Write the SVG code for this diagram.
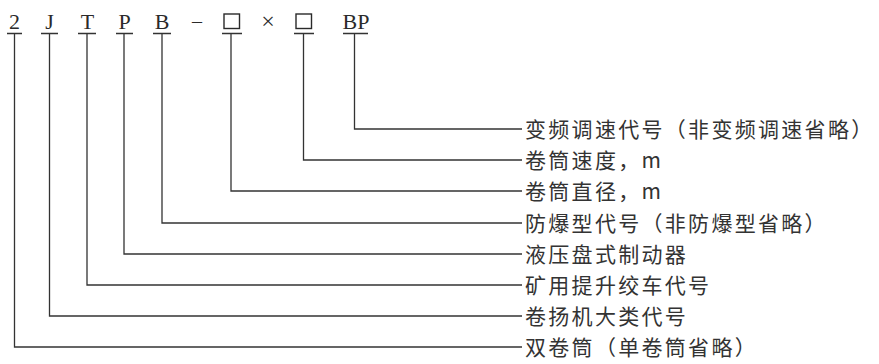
<svg xmlns="http://www.w3.org/2000/svg" width="879" height="364" viewBox="0 0 879 364">
<style>
.code{font-family:"Liberation Serif","Times New Roman",serif;font-size:22px;fill:#2a2a2a;text-anchor:middle}
.lbl{font-family:"Noto Sans CJK SC","Noto Sans",sans-serif;font-size:21px;fill:#333;letter-spacing:2.3px}
.ln{fill:none;stroke:#333;stroke-width:1.3}
.box{fill:none;stroke:#2a2a2a;stroke-width:1.4}
</style>
<rect width="879" height="364" fill="#fff"/>
<g id="code">
<text class="code" x="14.5" y="28.5">2</text>
<text class="code" x="49.5" y="28.5">J</text>
<text class="code" x="87.5" y="28.5">T</text>
<text class="code" x="124.5" y="28.5">P</text>
<text class="code" x="162" y="28.5">B</text>
<text class="code" x="197" y="28" style="font-size:20px">–</text>
<rect class="box" x="224" y="14" width="15.5" height="14.5"/>
<text class="code" x="268" y="29" style="font-size:24px">×</text>
<rect class="box" x="296" y="14" width="15.5" height="14.5"/>
<text class="code" x="356" y="28.5">BP</text>
</g>
<g id="connectors">
<path class="ln" d="M7 33.5H22 M14.5 33.5V347H522"/>
<path class="ln" d="M41 33.5H58 M49.5 33.5V316H522"/>
<path class="ln" d="M78 33.5H96 M87 33.5V285H522"/>
<path class="ln" d="M116 33.5H133 M124 33.5V254H522"/>
<path class="ln" d="M153 33.5H171 M162 33.5V223H522"/>
<path class="ln" d="M222 33.5H242 M231 33.5V191H522"/>
<path class="ln" d="M294 33.5H314 M303.5 33.5V160H522"/>
<path class="ln" d="M343 33.5H368 M354.5 33.5V129H522"/>
</g>
<g id="n-bp"><text class="lbl" x="525" y="136.5">变频调速代号（非变频调速省略）</text></g>
<g id="n-speed"><text class="lbl" x="525" y="167.5">卷筒速度，m</text></g>
<g id="n-diam"><text class="lbl" x="525" y="198.5">卷筒直径，m</text></g>
<g id="n-b"><text class="lbl" x="525" y="230.5">防爆型代号（非防爆型省略）</text></g>
<g id="n-p"><text class="lbl" x="525" y="261.5">液压盘式制动器</text></g>
<g id="n-t"><text class="lbl" x="525" y="292.5">矿用提升绞车代号</text></g>
<g id="n-j"><text class="lbl" x="525" y="323.5">卷扬机大类代号</text></g>
<g id="n-2"><text class="lbl" x="525" y="354.5">双卷筒（单卷筒省略）</text></g>
</svg>
